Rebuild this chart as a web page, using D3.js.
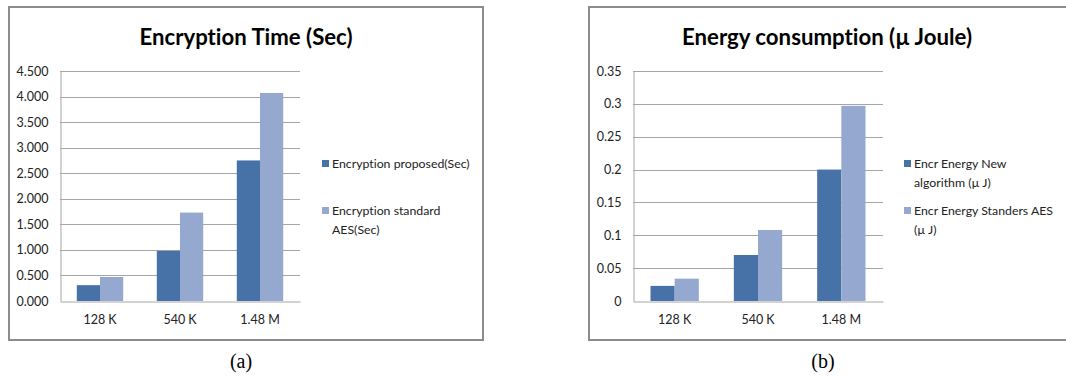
<!DOCTYPE html>
<html>
<head>
<meta charset="utf-8">
<script src="https://cdn.jsdelivr.net/npm/d3@7/dist/d3.min.js"></script>
<style>
  html, body { margin: 0; padding: 0; background: #fff; }
  svg { display: block; }
  text { font-variant-ligatures: none; }
  .tick text { font-family: Lato, "Open Sans", sans-serif; }
</style>
</head>
<body>
<svg id="fig" width="1066" height="376"></svg>
<script>
// File sizes compared in both panels
const categories = ["128 K", "540 K", "1.48 M"];

// Panel (a): encryption time in seconds
const timeProposed = [0.31, 0.98, 2.75];
const timeAES = [0.47, 1.73, 4.07];
const timeTicks = [0, 0.5, 1, 1.5, 2, 2.5, 3, 3.5, 4, 4.5];

// Panel (b): energy consumption in micro-joules
const energyNew = [0.023, 0.070, 0.200];
const energyAES = [0.034, 0.108, 0.297];
const energyTicks = [0, 0.05, 0.1, 0.15, 0.2, 0.25, 0.3, 0.35];

const darkBlue = "#4672a8";
const lightBlue = "#95a9d0";
const font = "Lato, 'Open Sans', sans-serif";

const svg = d3.select("#fig");

function panel(opt) {
  const g = svg.append("g");

  // outer frame
  g.append("rect")
    .attr("x", opt.frame[0]).attr("y", opt.frame[1])
    .attr("width", opt.frame[2]).attr("height", opt.frame[3])
    .attr("fill", "#fff").attr("stroke", "#8c8c8c").attr("stroke-width", 2);

  // title
  g.append("text")
    .attr("x", opt.titleX).attr("y", 45)
    .attr("text-anchor", "middle")
    .attr("font-family", font).attr("font-weight", "bold")
    .attr("font-size", 22)
    .attr("textLength", opt.titleW).attr("lengthAdjust", "spacingAndGlyphs")
    .attr("fill", "#000")
    .text(opt.title);

  const x = d3.scaleBand().domain(categories).range([opt.left, opt.right]);
  const y = d3.scaleLinear().domain([0, opt.max]).range([301, 71]);

  // gridlines
  g.append("g").selectAll("line").data(opt.ticks.slice(1)).join("line")
    .attr("x1", opt.left).attr("x2", opt.right)
    .attr("y1", d => Math.round(y(d)) + 0.5).attr("y2", d => Math.round(y(d)) + 0.5)
    .attr("stroke", "#a6a6a6").attr("stroke-width", 1);

  // bars
  const bw = x.bandwidth() * 0.29;
  const series = [
    { values: opt.s1, color: darkBlue, off: -bw },
    { values: opt.s2, color: lightBlue, off: 0 }
  ];
  series.forEach(s => {
    g.append("g").selectAll("rect").data(categories).join("rect")
      .attr("x", d => x(d) + x.bandwidth() / 2 + s.off)
      .attr("width", bw)
      .attr("y", (d, i) => y(s.values[i]))
      .attr("height", (d, i) => y(0) - y(s.values[i]))
      .attr("fill", s.color);
  });

  // y axis
  const ya = g.append("g").attr("transform", `translate(${opt.left + 0.5},0)`)
    .call(d3.axisLeft(y).tickValues(opt.ticks).tickFormat(opt.fmt).tickSize(0).tickPadding(opt.tickPad));
  ya.select(".domain").attr("stroke", "#a6a6a6");
  ya.selectAll("text").attr("font-size", 12.5).attr("fill", "#222");

  // x axis
  const xa = g.append("g").attr("transform", `translate(0,${y(0) + 0.5})`)
    .call(d3.axisBottom(x).tickSize(0).tickPadding(14));
  xa.select(".domain").attr("stroke", "#a6a6a6");
  xa.selectAll("text").attr("font-size", 12.5).attr("fill", "#222");

  // legend
  const lg = g.append("g");
  opt.legend.forEach((item, i) => {
    lg.append("rect")
      .attr("x", opt.legX).attr("y", item.y - 4)
      .attr("width", 7).attr("height", 7)
      .attr("fill", i === 0 ? darkBlue : lightBlue);
    item.lines.forEach((line, j) => {
      lg.append("text")
        .attr("x", opt.legX + 10).attr("y", item.y + 4 + j * 18.5)
        .attr("font-family", font).attr("font-size", 12.3).attr("fill", "#222")
        .text(line);
    });
  });

  // caption below the frame
  svg.append("text")
    .attr("x", opt.capX).attr("y", 368)
    .attr("text-anchor", "middle")
    .attr("font-family", "'Liberation Serif', 'DejaVu Serif', serif")
    .attr("font-size", 20).attr("fill", "#000")
    .text(opt.caption);
}

panel({
  frame: [9, 7, 474, 333],
  title: "Encryption Time (Sec)", titleX: 246, titleW: 213,
  left: 60, right: 300, max: 4.5, ticks: timeTicks,
  fmt: d3.format(".3f"), tickPad: 12,
  s1: timeProposed, s2: timeAES,
  legX: 322,
  legend: [
    { y: 164, lines: ["Encryption proposed(Sec)"] },
    { y: 211, lines: ["Encryption standard", "AES(Sec)"] }
  ],
  caption: "(a)", capX: 241
});

panel({
  frame: [589, 7, 490, 333],
  title: "Energy consumption (\u00b5 Joule)", titleX: 827, titleW: 290,
  left: 633, right: 883, max: 0.35, ticks: energyTicks,
  fmt: d => d3.format("")(+d.toFixed(2)), tickPad: 12,
  s1: energyNew, s2: energyAES,
  legX: 904,
  legend: [
    { y: 164, lines: ["Encr Energy New", "algorithm (\u00b5 J)"] },
    { y: 211, lines: ["Encr Energy Standers AES", "(\u00b5 J)"] }
  ],
  caption: "(b)", capX: 823
});
</script>
</body>
</html>
